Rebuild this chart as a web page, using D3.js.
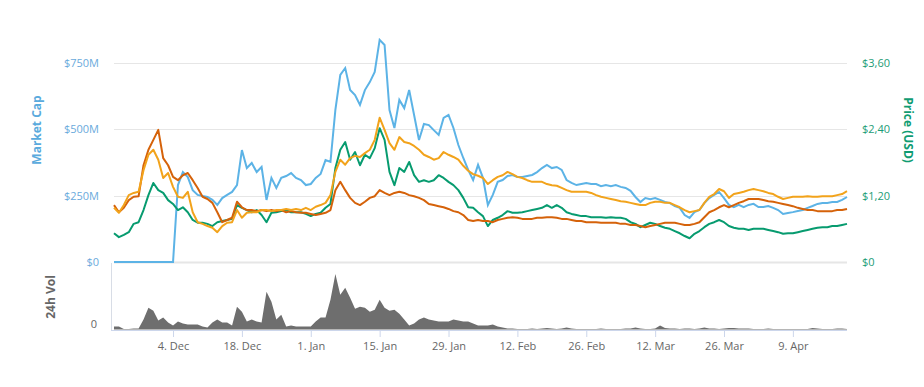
<!DOCTYPE html>
<html>
<head>
<meta charset="utf-8">
<script src="https://cdn.jsdelivr.net/npm/d3@7"></script>
<style>
  body { margin: 0; background: #fff; }
  svg { font-family: "Open Sans", "DejaVu Sans", sans-serif; }
</style>
</head>
<body>
<script>
// Chart size
const width = 924, height = 387;

// Daily values, first day 22 Nov 2017
const startDay = "2017-11-22";
const endDay = "2018-04-20";

// Market cap, millions USD (left axis)
const marketCap = [0,0,0,0,0,0,0,0,0,0,0,0,0,290,339,320,271,253,249,245,234,215,241,253,264,290,422,354,373,339,
  358,234,317,279,317,324,335,317,309,290,294,317,332,384,377,573,705,731,648,629,592,648,678,716,837,818,573,505,611,580,
  648,554,460,520,516,497,479,543,554,505,441,392,347,309,366,317,215,253,302,309,324,328,320,320,324,328,339,354,366,354,
  358,347,309,298,290,294,298,294,294,286,290,286,290,283,279,268,245,226,241,237,241,234,226,222,211,204,177,166,188,196,
  222,241,253,264,241,215,207,215,207,215,219,207,207,211,204,196,181,185,188,192,196,204,211,219,222,222,226,226,234,245];

// Prices, USD (right axis)
const priceOrange = [0.98,0.89,1.03,1.21,1.25,1.27,1.66,1.94,2.03,1.85,1.52,1.61,1.36,1.18,1.16,1.27,0.90,0.72,0.69,0.65,
  0.62,0.54,0.65,0.71,0.72,0.94,0.80,0.89,0.90,0.90,0.94,0.94,0.92,0.94,0.94,0.96,0.94,0.96,0.94,0.98,
  0.94,1.00,1.03,1.07,1.21,1.63,1.85,1.76,1.88,1.92,1.90,1.97,2.03,2.21,2.61,2.39,2.15,2.03,2.26,2.17,
  2.15,2.10,2.03,1.94,1.90,1.85,1.88,1.99,1.94,1.90,1.85,1.74,1.65,1.59,1.56,1.52,1.41,1.48,1.54,1.57,
  1.63,1.59,1.54,1.52,1.48,1.45,1.45,1.45,1.41,1.39,1.38,1.34,1.30,1.27,1.27,1.27,1.27,1.25,1.21,1.18,
  1.16,1.14,1.12,1.10,1.09,1.07,1.05,1.03,1.03,1.07,1.09,1.09,1.07,1.07,1.03,0.99,0.94,0.90,0.92,0.94,
  1.07,1.18,1.23,1.32,1.28,1.16,1.23,1.25,1.27,1.30,1.32,1.30,1.28,1.25,1.23,1.18,1.14,1.16,1.18,1.18,
  1.18,1.19,1.18,1.18,1.19,1.19,1.19,1.21,1.23,1.28];

const priceRust = [1.03,0.90,0.98,1.12,1.18,1.19,1.75,2.03,2.21,2.39,1.88,1.75,1.54,1.48,1.57,1.61,1.48,1.34,1.18,1.14,
  1.07,0.90,0.72,0.76,0.80,1.09,0.99,0.94,0.94,0.92,0.94,0.92,0.94,0.92,0.94,0.90,0.92,0.90,0.89,0.89,
  0.87,0.85,0.87,0.89,0.94,1.30,1.45,1.30,1.16,1.07,1.03,1.09,1.16,1.19,1.30,1.25,1.21,1.25,1.27,1.25,
  1.21,1.19,1.16,1.12,1.05,1.03,1.01,0.99,0.96,0.92,0.90,0.85,0.76,0.74,0.76,0.74,0.74,0.72,0.76,0.78,
  0.80,0.81,0.80,0.78,0.78,0.78,0.80,0.80,0.81,0.81,0.80,0.78,0.78,0.76,0.74,0.74,0.72,0.72,0.72,0.71,
  0.71,0.71,0.71,0.69,0.69,0.67,0.67,0.65,0.63,0.65,0.67,0.69,0.71,0.71,0.71,0.69,0.67,0.67,0.69,0.72,
  0.81,0.90,0.94,0.99,1.03,0.99,1.03,1.07,1.10,1.14,1.14,1.14,1.12,1.10,1.09,1.07,1.05,1.03,1.01,0.98,
  0.96,0.94,0.94,0.92,0.92,0.92,0.92,0.94,0.94,0.96];

const priceGreen = [0.52,0.45,0.49,0.54,0.69,0.72,0.94,1.21,1.43,1.30,1.25,1.12,1.05,0.94,0.99,0.90,0.76,0.71,0.71,0.69,
  0.65,0.72,0.74,0.76,0.78,1.03,0.98,0.94,0.90,0.94,0.85,0.72,0.89,0.90,0.92,0.94,0.90,0.90,0.90,0.87,
  0.83,0.87,0.89,0.98,1.05,1.70,2.03,2.17,1.85,1.99,1.75,1.94,1.88,2.06,2.42,2.21,1.63,1.39,1.70,1.63,
  1.81,1.57,1.45,1.48,1.45,1.48,1.57,1.52,1.45,1.39,1.30,1.16,0.99,0.98,0.90,0.83,0.65,0.76,0.80,0.85,
  0.92,0.89,0.89,0.90,0.92,0.94,0.96,0.98,1.03,0.98,1.03,0.98,0.90,0.87,0.85,0.83,0.83,0.81,0.81,0.81,
  0.80,0.81,0.80,0.80,0.78,0.72,0.69,0.63,0.67,0.71,0.69,0.65,0.62,0.60,0.56,0.52,0.47,0.43,0.51,0.56,
  0.63,0.69,0.72,0.76,0.72,0.65,0.62,0.60,0.60,0.58,0.60,0.60,0.60,0.58,0.56,0.54,0.51,0.52,0.52,0.54,
  0.56,0.58,0.60,0.62,0.63,0.63,0.65,0.65,0.67,0.69];

// 24h volume, millions USD
const volume24h = [3,3,0.5,0.5,1,1,10,22,19,9,12,7,4,8,6,5,5,5,3,2,
  7,10,7,7,4,23,18,8,10,8,7,38,28,10,15,3,4,3,3,3,
  3,8,12,12,30,56,35,42,32,21,23,22,18,20,30,22,19,20,16,10,
  4,6,10,12,10,9,8,8,8,10,9,8,8,6,4,4,4,5,3,2,
  1,1,0.5,0.5,0.5,1,0.5,1,1.5,1,0.5,1,2,1,0.5,0.5,0.5,0.5,0.5,1,
  0.5,0.5,0.5,0.5,1,1,2,1,0.5,0.5,1,4,1.5,1,1,0.5,1,1,0.5,1,
  2,1,1,0.5,1,1.5,1.5,1,1,1,0.5,0.5,0.5,1,0.5,0.5,0.5,0.5,0.5,0.5,
  0.5,0.5,1.5,1,0.5,0.5,0.5,1,1,0.5];

// Axis ticks and labels
const capTicks = [0, 250, 500, 750];
const capLabels = ["$0", "$250M", "$500M", "$750M"];
const priceTicks = [0, 1.2, 2.4, 3.6];
const priceLabels = ["$0", "$1,20", "$2,40", "$3,60"];
const dateTicks = ["2017-12-04", "2017-12-18", "2018-01-01", "2018-01-15", "2018-01-29",
  "2018-02-12", "2018-02-26", "2018-03-12", "2018-03-26", "2018-04-09"];

// Colours
const blue = "#5cb3e6", orange = "#f2a31b", rust = "#d5620a", green = "#079b6f";

const parse = d3.utcParse("%Y-%m-%d");
const start = parse(startDay);
const days = marketCap.map((_, i) => d3.utcDay.offset(start, i));

// Layout of the two panels
const left = 114, right = 847;
const mainTop = 63, mainBottom = 262;
const volTop = 270, volBottom = 329.5;

const svg = d3.select("body").append("svg")
    .attr("width", width)
    .attr("height", height);

const x = d3.scaleUtc().domain([start, parse(endDay)]).range([left, right]);
const yCap = d3.scaleLinear().domain([0, 750]).range([mainBottom, mainTop]);
const yPrice = d3.scaleLinear().domain([0, 3.6]).range([mainBottom, mainTop]);
const yVol = d3.scaleLinear().domain([0, 60]).range([volBottom, volTop]);

// Grid lines
svg.append("g")
  .selectAll("line")
  .data(capTicks)
  .join("line")
    .attr("x1", left).attr("x2", right)
    .attr("y1", d => Math.round(yCap(d)) + 0.5)
    .attr("y2", d => Math.round(yCap(d)) + 0.5)
    .attr("stroke", "#e6e6e6")
    .attr("stroke-width", d => d === 0 ? 2 : 1);

// Left axis labels
svg.append("g")
  .selectAll("text")
  .data(capTicks)
  .join("text")
    .attr("x", 99)
    .attr("y", d => yCap(d) + 4)
    .attr("text-anchor", "end")
    .attr("fill", "#6aaadc")
    .attr("font-size", 11)
    .text((d, i) => capLabels[i]);

// Right axis labels
svg.append("g")
  .selectAll("text")
  .data(priceTicks)
  .join("text")
    .attr("x", 862)
    .attr("y", d => yPrice(d) + 4)
    .attr("fill", "#1c9c76")
    .attr("font-size", 11)
    .text((d, i) => priceLabels[i]);

// Axis titles
svg.append("text")
    .attr("transform", "translate(41,130) rotate(-90)")
    .attr("text-anchor", "middle")
    .attr("fill", "#5aaadd")
    .attr("font-size", 12)
    .attr("font-weight", "bold")
    .text("Market Cap");

svg.append("text")
    .attr("transform", "translate(904,130) rotate(90)")
    .attr("text-anchor", "middle")
    .attr("fill", "#109c72")
    .attr("font-size", 12)
    .attr("font-weight", "bold")
    .text("Price (USD)");

svg.append("text")
    .attr("transform", "translate(55,297) rotate(-90)")
    .attr("text-anchor", "middle")
    .attr("fill", "#666")
    .attr("font-size", 12)
    .attr("font-weight", "bold")
    .text("24h Vol");

svg.append("text")
    .attr("x", 97)
    .attr("y", 328)
    .attr("text-anchor", "end")
    .attr("fill", "#666")
    .attr("font-size", 11)
    .text("0");

// Volume panel
svg.append("line")
    .attr("x1", 111.5).attr("x2", 111.5)
    .attr("y1", 263).attr("y2", 330)
    .attr("stroke", "#d8dde6");

const area = d3.area()
    .x((d, i) => x(days[i]))
    .y0(yVol(0))
    .y1(d => yVol(d));

svg.append("path")
    .datum(volume24h)
    .attr("fill", "#6e6e6e")
    .attr("d", area);

// X axis
const xAxis = d3.axisBottom(x)
    .tickValues(dateTicks.map(parse))
    .tickFormat(d3.utcFormat("%-d. %b"))
    .tickSize(7)
    .tickPadding(5);

const gx = svg.append("g")
    .attr("transform", `translate(0,${volBottom + 0.5})`)
    .call(xAxis);
gx.select(".domain")
    .attr("d", `M${left - 3},0.5H${right}`)
    .attr("stroke", "#ccd6eb");
gx.selectAll(".tick line").attr("stroke", "#ccd6eb");
gx.selectAll(".tick text")
    .attr("fill", "#666")
    .attr("font-size", 11)
    .attr("font-family", "'Open Sans', 'DejaVu Sans', sans-serif");

// Lines
const capLine = d3.line()
    .x((d, i) => x(days[i]))
    .y(d => yCap(d));
const priceLine = d3.line()
    .x((d, i) => x(days[i]))
    .y(d => yPrice(d));

svg.append("path")
    .datum(marketCap)
    .attr("fill", "none")
    .attr("stroke", blue)
    .attr("stroke-width", 2)
    .attr("d", capLine);

const priceSeries = [
  { values: priceGreen, color: green },
  { values: priceRust, color: rust },
  { values: priceOrange, color: orange }
];

svg.append("g")
  .selectAll("path")
  .data(priceSeries)
  .join("path")
    .attr("fill", "none")
    .attr("stroke", d => d.color)
    .attr("stroke-width", 2)
    .attr("stroke-linejoin", "round")
    .attr("d", d => priceLine(d.values));
</script>
</body>
</html>
